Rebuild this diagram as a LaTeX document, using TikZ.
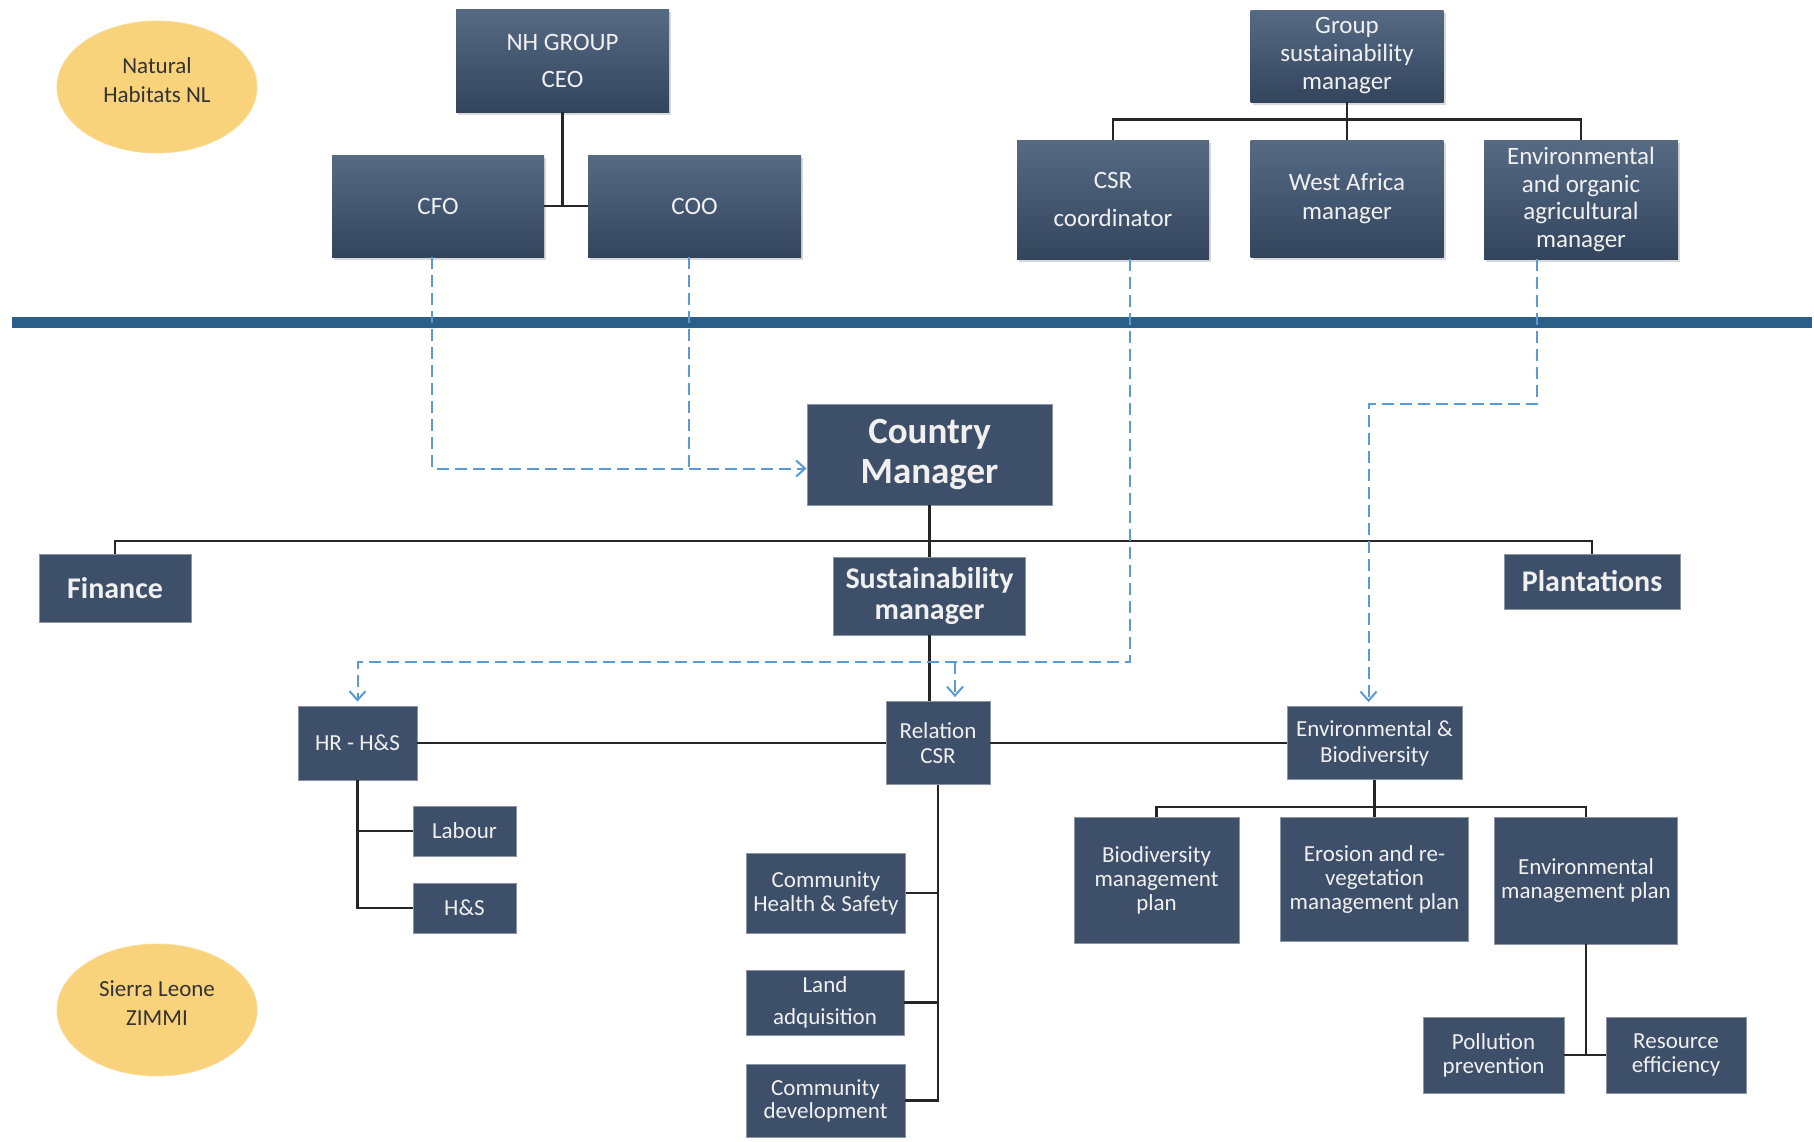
\documentclass[tikz,border=0pt]{standalone}
\usepackage{fontspec}
\setmainfont{Carlito}
\usepackage{xcolor}
\usepackage{tikz}
\usetikzlibrary{positioning,arrows.meta,shapes,calc,shadows}

\definecolor{boxblue}{HTML}{3D4F69}
\definecolor{boxtop}{HTML}{566A84}
\definecolor{boxbot}{HTML}{33455D}
\definecolor{bandblue}{HTML}{2A5F8A}
\definecolor{dashblue}{HTML}{5B9BD5}
\definecolor{siteyellow}{HTML}{F9D27C}

\begin{document}
\begin{tikzpicture}[
    x=0.5pt, y=-0.5pt,
    >={Straight Barb[length=4.5pt,width=8pt]},
    topbox/.style={rectangle, top color=boxtop, bottom color=boxbot, text=white!94!black, align=center,
        drop shadow={opacity=0.3, shadow xshift=1pt, shadow yshift=-1.5pt},
        font=\fontsize{12.5}{14.5}\selectfont},
    unitbox/.style={rectangle, fill=boxblue, draw=boxblue!60!white, line width=0.4pt, text=white!94!black,
        align=center, font=\fontsize{11.5}{13}\selectfont},
    headbox/.style={unitbox, font=\bfseries\fontsize{15}{15.5}\selectfont},
    sitelabel/.style={ellipse, fill=siteyellow, draw=siteyellow!80!white, minimum width=100pt,
        minimum height=66pt, inner sep=0pt, align=center, text=black!80, font=\fontsize{11.5}{14.5}\selectfont},
    tie/.style={line width=1.1pt, black!85},
    link/.style={line width=1pt, dashblue, dash pattern=on 6pt off 3pt}
]
\useasboundingbox (0,0) rectangle (1814,1141);

% === Group level (NL) ===
\node[sitelabel] (nhnl) at (157,87) {Natural\\Habitats NL\\[-7.5pt]};

\node[topbox, minimum width=106.5pt, minimum height=51.5pt] (ceo) at (562.5,60.5) {NH GROUP\\[4pt]CEO};
\node[topbox, minimum width=106pt, minimum height=51pt] (cfo) at (438,206) {CFO};
\node[topbox, minimum width=106.5pt, minimum height=51pt] (coo) at (694.5,206) {COO};

\draw[tie] (ceo.south) -- (ceo.south |- cfo.east);
\draw[tie] (cfo.east) -- (coo.west);

\node[topbox, minimum width=96.5pt, minimum height=46pt, font=\fontsize{12.5}{14}\selectfont] (gsm) at (1347,56) {Group\\sustainability\\manager};
\node[topbox, minimum width=96pt, minimum height=59.5pt] (csr) at (1113,199.5) {CSR\\[4.5pt]coordinator};
\node[topbox, minimum width=96.5pt, minimum height=58.5pt] (wam) at (1347,198.5) {West Africa\\manager};
\node[topbox, minimum width=97pt, minimum height=59.5pt, font=\fontsize{12.5}{13.7}\selectfont] (eoa) at (1581,199.5)
    {Environmental\\and organic\\agricultural\\manager};

% Bus below group sustainability manager
\coordinate (gsmBus) at ([yshift=-8.5pt]gsm.south);
\draw[tie] (gsm.south) -- (wam.north);
\draw[tie] (csr.north) |- (gsmBus) -| (eoa.north);

% === Divider ===
\coordinate (divL) at (12,322);
\coordinate (divR) at (1812,322);
\draw[bandblue, line width=5.5pt] (divL) -- (divR);

% === Country level (Sierra Leone) ===
\node[unitbox, minimum width=122.5pt, minimum height=50.5pt, font=\bfseries\fontsize{18.5}{20}\selectfont] (cm) at (929.5,454.5) {Country\\Manager};

\node[headbox, minimum width=76pt, minimum height=34pt] (fin) at (115,588) {Finance};
\node[headbox, minimum width=96pt, minimum height=39pt] (sm) at (929.5,596) {Sustainability\\manager};
\node[headbox, minimum width=88pt, minimum height=27.5pt] (pl) at (1592,581.5) {Plantations};

\coordinate (cmBus) at (929.5,541);
\draw[tie] (cm.south) -- (sm.north);
\draw[tie] (fin.north) |- (cmBus) -| (pl.north);

% Dashed reporting lines from NL
\coordinate (cmIn) at ([yshift=-7pt]cm.west);
\coordinate (cfoOut) at ([xshift=-3pt]cfo.south);
\coordinate (cooOut) at ([xshift=-3pt]coo.south);
\draw[link,->] (cfoOut) |- (cmIn);
\draw[link] (cooOut) -- (cooOut |- cmIn);

% === Departments ===
\node[unitbox, minimum width=59.5pt, minimum height=37pt] (hr) at (357.5,743) {HR - H\&S};
\node[unitbox, minimum width=52pt, minimum height=41.5pt, font=\fontsize{11.5}{12.7}\selectfont] (rel) at (938,743) {Relation\\CSR};
\node[unitbox, minimum width=87.5pt, minimum height=36.5pt] (env) at (1374.5,743) {Environmental \&\\Biodiversity};

\draw[tie] (sm.south) -- (sm.south |- rel.north);
\draw[tie] (hr) -- (rel);
\draw[tie] (rel) -- (env);

\coordinate (csrOut) at ([xshift=8.5pt]csr.south);
\coordinate (csrBend) at (1130,662);
\coordinate (relIn) at ([xshift=8.5pt,yshift=2pt]rel.north);
\draw[link,->,shorten >=2pt] (csrOut) -- (csrBend) -| (hr.north);
\draw[link,->] (relIn |- csrBend) -- (relIn);

\coordinate (eoaOut) at ([xshift=-22pt]eoa.south);
\coordinate (envIn) at ([xshift=-3pt,yshift=2pt]env.north);
\draw[link,->] (eoaOut) -- ++(0,145) -| (envIn);

% HR - H&S
\node[unitbox, minimum width=51.5pt, minimum height=25pt] (lab) at (464.5,831) {Labour};
\node[unitbox, minimum width=51.5pt, minimum height=25pt] (hs) at (464.5,908) {H\&S};
\draw[tie] (hr.south) |- (lab.west);
\draw[tie] (hr.south) |- (hs.west);

% Relation CSR
\node[unitbox, minimum width=78pt, minimum height=40pt, font=\fontsize{11.5}{12}\selectfont] (chs) at (826,893) {Community\\Health \& Safety};
\node[unitbox, minimum width=79pt, minimum height=30.5pt, font=\fontsize{11.5}{12}\selectfont] (land) at (825,1002.5) {Land\\[4pt]adquisition};
\node[unitbox, minimum width=79.5pt, minimum height=36.5pt, font=\fontsize{11.5}{11.5}\selectfont] (cdev) at (825.5,1100.5) {Community\\development};
\draw[tie] (rel.south) |- (chs.east);
\draw[tie] (rel.south) |- (land.east);
\draw[tie] (rel.south) |- (cdev.east);

% Environmental & Biodiversity
\node[unitbox, minimum width=82.5pt, minimum height=63pt, font=\fontsize{11.5}{12}\selectfont] (bmp) at (1156.5,880) {Biodiversity\\management\\plan};
\node[unitbox, minimum width=94pt, minimum height=62pt, font=\fontsize{11.5}{12}\selectfont] (erm) at (1374.5,879) {Erosion and re-\\vegetation\\management plan};
\node[unitbox, minimum width=89pt, minimum height=63.5pt, font=\fontsize{11.5}{12}\selectfont] (emp) at (1586,880.5) {Environmental\\management plan};

\coordinate (envBus) at ([yshift=-13.5pt]env.south);
\draw[tie] (env.south) -- (erm.north);
\draw[tie] (bmp.north) |- (envBus) -| (emp.north);

\node[unitbox, minimum width=70.5pt, minimum height=38pt, font=\fontsize{11.5}{12}\selectfont] (pp) at (1493.5,1055) {Pollution\\prevention};
\node[unitbox, minimum width=70pt, minimum height=38pt, font=\fontsize{11.5}{12}\selectfont] (re) at (1676,1055) {Resource\\efficiency};
\draw[tie] (emp.south) -- (emp.south |- pp.east);
\draw[tie] (pp.east) -- (re.west);

\node[sitelabel] (slz) at (157,1010) {Sierra Leone\\ZIMMI\\[-7.5pt]};

\end{tikzpicture}
\end{document}
